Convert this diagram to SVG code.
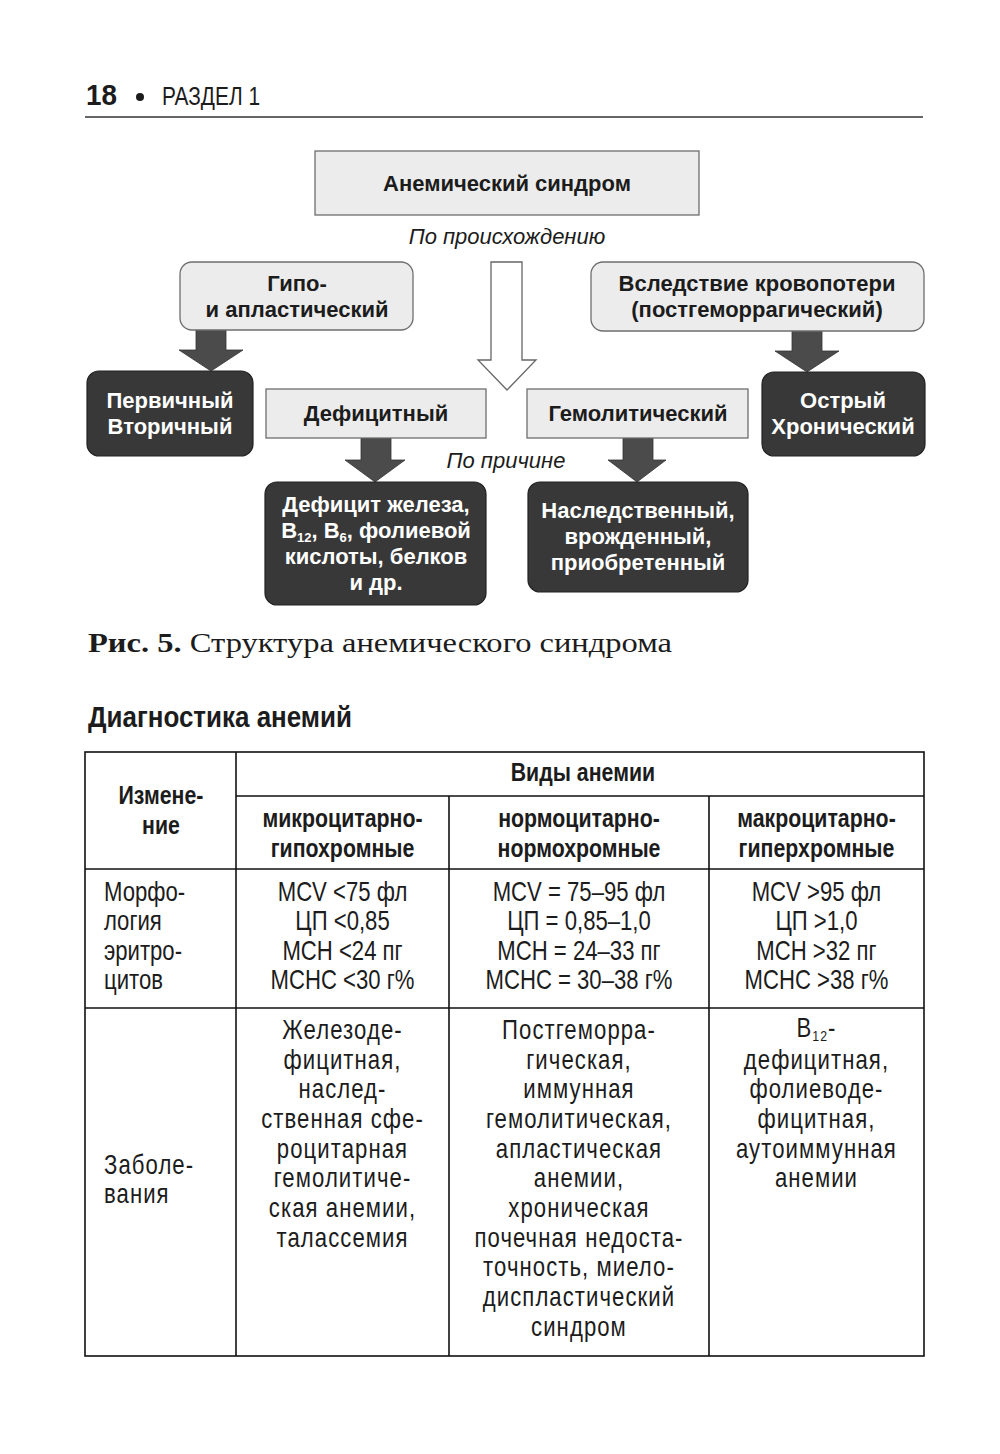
<svg xmlns="http://www.w3.org/2000/svg" width="1000" height="1454" viewBox="0 0 1000 1454">
<style>
.bg{fill:#fff}
.lbox{fill:#ececec;stroke:#6e6e6e;stroke-width:1.3}
.dbox{fill:#383838;stroke:#222;stroke-width:1.2}
.arr{fill:#4b4b4b;stroke:#333;stroke-width:0.8}
.harr{fill:#fff;stroke:#666;stroke-width:1.3}
.t{font-family:"Liberation Sans",Arial,sans-serif;fill:#1c1c1c}
.b{font-weight:bold;font-size:22px;text-anchor:middle}
.w{fill:#fff}
.it{font-style:italic;font-size:22px;text-anchor:middle}
.tl{stroke:#111;stroke-width:1.6;fill:none}
.hd{font-weight:bold;font-size:26px;text-anchor:middle}
.rg{font-size:27px;text-anchor:middle}
.lf{font-size:27px}
.ds{font-size:27px;text-anchor:middle;letter-spacing:1.3px}
.dl{font-size:27px;letter-spacing:1.3px}
</style>
<rect class="bg" x="0" y="0" width="1000" height="1454"/>

<g id="page-header">
<text class="t" x="86" y="105" font-weight="bold" font-size="29" textLength="31" lengthAdjust="spacingAndGlyphs">18</text>
<circle cx="140" cy="97" r="4" fill="#1c1c1c"/>
<text class="t" x="162" y="105" font-size="25" textLength="98" lengthAdjust="spacingAndGlyphs">РАЗДЕЛ 1</text>
<line x1="85" y1="117" x2="923" y2="117" stroke="#333" stroke-width="1.5"/>
</g>

<g id="connectors">
<polygon class="harr" points="491,262 522,262 522,360 536,360 507,390 478,360 491,360"/>
<polygon class="arr" points="196,330 226,330 226,350 243,350 211,371 179,350 196,350"/>
<polygon class="arr" points="792,331 822,331 822,351 839,351 807,372 775,351 792,351"/>
<polygon class="arr" points="361,438 391,438 391,460 405,460 375,482 345,460 361,460"/>
<polygon class="arr" points="623,438 653,438 653,460 666,460 637,482 608,460 623,460"/>
</g>

<g id="node-root">
<rect class="lbox" x="315" y="151" width="384" height="64"/>
<text class="t b" x="507" y="191">Анемический синдром</text>
</g>

<g id="label-origin">
<text class="t it" x="507" y="244">По происхождению</text>
</g>

<g id="node-hypo">
<rect class="lbox" x="180" y="262" width="233" height="68" rx="12"/>
<text class="t b" x="297" y="291">Гипо-</text>
<text class="t b" x="297" y="317">и апластический</text>
</g>

<g id="node-bloodloss">
<rect class="lbox" x="591" y="262" width="333" height="69" rx="12"/>
<text class="t b" x="757" y="291">Вследствие кровопотери</text>
<text class="t b" x="757" y="317">(постгеморрагический)</text>
</g>

<g id="node-primary">
<rect class="dbox" x="87" y="371" width="166" height="85" rx="12"/>
<text class="t b w" x="170" y="408">Первичный</text>
<text class="t b w" x="170" y="434">Вторичный</text>
</g>

<g id="node-deficit">
<rect class="lbox" x="266" y="389" width="220" height="49"/>
<text class="t b" x="376" y="421">Дефицитный</text>
</g>

<g id="node-hemolytic">
<rect class="lbox" x="527" y="389" width="221" height="49"/>
<text class="t b" x="638" y="421">Гемолитический</text>
</g>

<g id="node-acute">
<rect class="dbox" x="762" y="372" width="163" height="84" rx="12"/>
<text class="t b w" x="843" y="408">Острый</text>
<text class="t b w" x="843" y="434">Хронический</text>
</g>

<g id="label-cause">
<text class="t it" x="506" y="468">По причине</text>
</g>

<g id="node-deficit-causes">
<rect class="dbox" x="265" y="482" width="221" height="123" rx="12"/>
<text class="t b w" x="376" y="512">Дефицит железа,</text>
<text class="t b w" x="376" y="538">B<tspan font-size="13" dy="4">12</tspan><tspan dy="-4">, B</tspan><tspan font-size="13" dy="4">6</tspan><tspan dy="-4">, фолиевой</tspan></text>
<text class="t b w" x="376" y="564">кислоты, белков</text>
<text class="t b w" x="376" y="590">и др.</text>
</g>

<g id="node-hemolytic-causes">
<rect class="dbox" x="528" y="482" width="220" height="110" rx="12"/>
<text class="t b w" x="638" y="518">Наследственный,</text>
<text class="t b w" x="638" y="544">врожденный,</text>
<text class="t b w" x="638" y="570">приобретенный</text>
</g>

<g id="caption">
<text x="88" y="652" font-family="'Liberation Serif','Times New Roman',serif" font-size="28" fill="#1c1c1c" textLength="584" lengthAdjust="spacingAndGlyphs"><tspan font-weight="bold">Рис. 5.</tspan> Структура анемического синдрома</text>
</g>

<g id="section-title">
<text class="t" x="88" y="727" font-weight="bold" font-size="30" textLength="264" lengthAdjust="spacingAndGlyphs">Диагностика анемий</text>
</g>

<g id="table">
<rect class="tl" x="85" y="752" width="839" height="604"/>
<line class="tl" x1="236" y1="752" x2="236" y2="1356"/>
<line class="tl" x1="449" y1="796" x2="449" y2="1356"/>
<line class="tl" x1="709" y1="796" x2="709" y2="1356"/>
<line class="tl" x1="236" y1="796" x2="924" y2="796"/>
<line class="tl" x1="85" y1="869" x2="924" y2="869" stroke-width="2.2"/>
<line class="tl" x1="85" y1="1008" x2="924" y2="1008"/>
<g transform="scale(0.82,1)">
<text class="t hd" x="710.9" y="781">Виды анемии</text>
<text class="t hd" x="196.3" y="804">Измене-</text>
<text class="t hd" x="196.3" y="834">ние</text>
<text class="t hd" x="417.7" y="827">микроцитарно-</text>
<text class="t hd" x="417.7" y="857">гипохромные</text>
<text class="t hd" x="706.1" y="827">нормоцитарно-</text>
<text class="t hd" x="706.1" y="857">нормохромные</text>
<text class="t hd" x="995.7" y="827">макроцитарно-</text>
<text class="t hd" x="995.7" y="857">гиперхромные</text>

<text class="t lf" x="126.8" y="901">Морфо-</text>
<text class="t lf" x="126.8" y="930">логия</text>
<text class="t lf" x="126.8" y="960">эритро-</text>
<text class="t lf" x="126.8" y="989">цитов</text>

<text class="t rg" x="417.7" y="901">MCV &lt;75 фл</text>
<text class="t rg" x="417.7" y="930">ЦП &lt;0,85</text>
<text class="t rg" x="417.7" y="960">MCH &lt;24 пг</text>
<text class="t rg" x="417.7" y="989">MCHC &lt;30 г%</text>

<text class="t rg" x="706.1" y="901">MCV = 75–95 фл</text>
<text class="t rg" x="706.1" y="930">ЦП = 0,85–1,0</text>
<text class="t rg" x="706.1" y="960">MCH = 24–33 пг</text>
<text class="t rg" x="706.1" y="989">MCHC = 30–38 г%</text>

<text class="t rg" x="995.7" y="901">MCV &gt;95 фл</text>
<text class="t rg" x="995.7" y="930">ЦП &gt;1,0</text>
<text class="t rg" x="995.7" y="960">MCH &gt;32 пг</text>
<text class="t rg" x="995.7" y="989">MCHC &gt;38 г%</text>

<text class="t dl" x="126.8" y="1174">Заболе-</text>
<text class="t dl" x="126.8" y="1203">вания</text>

<text class="t ds" x="417.7" y="1039">Железоде-</text>
<text class="t ds" x="417.7" y="1069">фицитная,</text>
<text class="t ds" x="417.7" y="1098">наслед-</text>
<text class="t ds" x="417.7" y="1128">ственная сфе-</text>
<text class="t ds" x="417.7" y="1158">роцитарная</text>
<text class="t ds" x="417.7" y="1187">гемолитиче-</text>
<text class="t ds" x="417.7" y="1217">ская анемии,</text>
<text class="t ds" x="417.7" y="1247">талассемия</text>

<text class="t ds" x="706.1" y="1039">Постгеморра-</text>
<text class="t ds" x="706.1" y="1069">гическая,</text>
<text class="t ds" x="706.1" y="1098">иммунная</text>
<text class="t ds" x="706.1" y="1128">гемолитическая,</text>
<text class="t ds" x="706.1" y="1158">апластическая</text>
<text class="t ds" x="706.1" y="1187">анемии,</text>
<text class="t ds" x="706.1" y="1217">хроническая</text>
<text class="t ds" x="706.1" y="1247">почечная недоста-</text>
<text class="t ds" x="706.1" y="1276">точность, миело-</text>
<text class="t ds" x="706.1" y="1306">диспластический</text>
<text class="t ds" x="706.1" y="1336">синдром</text>

<text class="t ds" x="995.7" y="1037">B<tspan font-size="15" dy="4">12</tspan><tspan dy="-4">-</tspan></text>
<text class="t ds" x="995.7" y="1069">дефицитная,</text>
<text class="t ds" x="995.7" y="1098">фолиеводе-</text>
<text class="t ds" x="995.7" y="1128">фицитная,</text>
<text class="t ds" x="995.7" y="1158">аутоиммунная</text>
<text class="t ds" x="995.7" y="1187">анемии</text>
</g>
</g>
</svg>
